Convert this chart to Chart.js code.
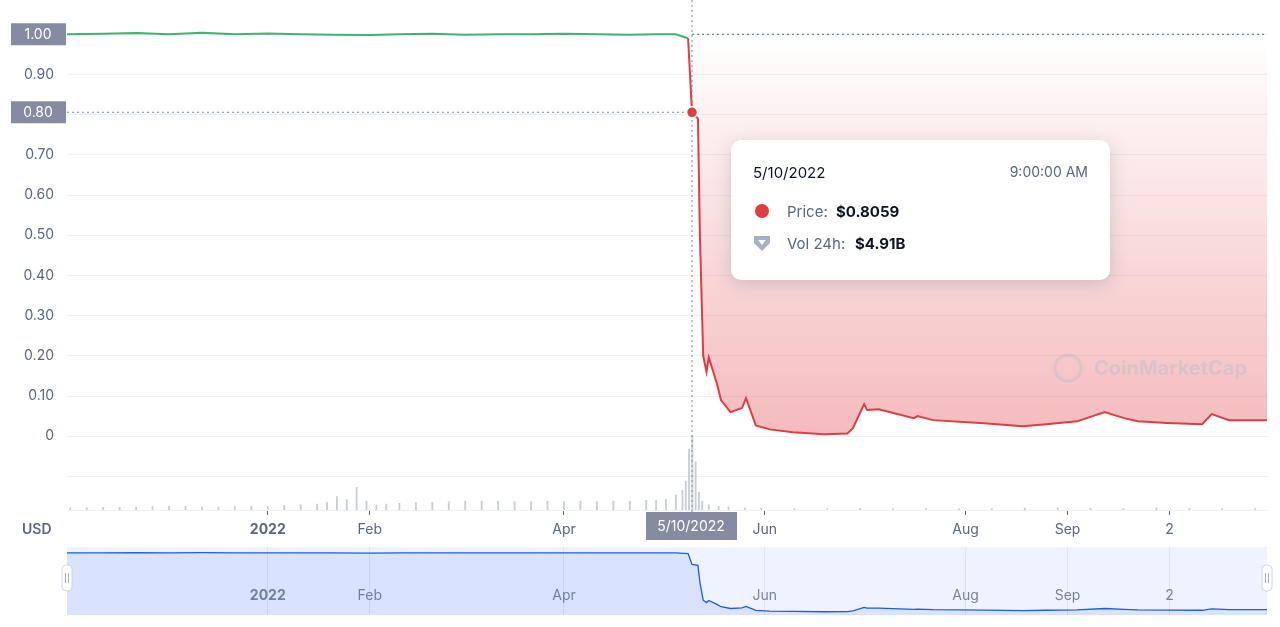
<!DOCTYPE html>
<html>
<head>
<meta charset="utf-8">
<script src="https://cdn.jsdelivr.net/npm/chart.js@4.4.1/dist/chart.umd.min.js"></script>
<style>
  body { margin: 0; background: #fff; font-family: Inter, "Noto Sans", sans-serif; }
  #wrap { position: relative; width: 1280px; height: 627px; }
  #main { position: absolute; left: 0; top: 0; }
  #nav { position: absolute; left: 0; top: 545px; }
  #usd { position: absolute; left: 22px; top: 520px; font: 600 14px Inter, sans-serif; color: #58667e; }
</style>
</head>
<body>
<div id="wrap">
  <canvas id="main" width="1280" height="545"></canvas>
  <div id="usd">USD</div>
  <canvas id="nav" width="1280" height="70"></canvas>
</div>
<script>
// день 0 = 1 янв 2022
const priceDays = [-61, -50, -40, -30, -20, -10, 0, 10, 20, 31, 40, 50, 60, 70, 80, 90, 100, 110, 118, 124, 127.7, 128.9, 130.7, 131.3, 132.3,
  133.3, 134.0, 136.5, 137.7, 140.6, 144.1, 145.3, 148.3, 152.5, 159.6, 169.0, 176.1, 177.8, 181.2, 182.1, 185.6, 196.3, 197.4, 202.1,
  217.6, 229.4, 236.5, 245.9, 254.3, 260.2, 264.3, 273.3, 283.9, 286.8, 292.1, 303.6];
const priceValues = [1.0, 1.001, 1.003, 1.0, 1.004, 1.0, 1.002, 1.0, 0.999, 0.998, 1.0, 1.001, 0.999, 1.0, 1.0, 1.001, 1.0, 0.999, 1.0, 1.0, 0.99, 0.8059, 0.79, 0.5, 0.2,
  0.16, 0.196, 0.13, 0.09, 0.06, 0.07, 0.095, 0.027, 0.017, 0.01, 0.005, 0.007, 0.02, 0.08, 0.065, 0.067, 0.045, 0.05, 0.04,
  0.032, 0.025, 0.03, 0.037, 0.06, 0.045, 0.037, 0.033, 0.03, 0.055, 0.04, 0.04];

// объём торгов, млрд $
const volumeDays = [-60, -55, -50, -45, -40, -35, -30, -25, -20, -15, -10, -5, 0, 5, 10, 15, 18, 21, 24, 27, 30, 33, 36, 40, 45, 50, 55, 60,
  65, 70, 75, 80, 85, 90, 95, 100, 105, 110, 115, 118, 121, 124, 126, 127, 128, 129, 130, 131, 132, 134, 137, 140, 145, 150, 160, 170,
  180, 190, 200, 210, 220, 230, 240, 250, 260, 270, 280, 290, 300];
const volumeValues = [0.15, 0.15, 0.17, 0.18, 0.2, 0.22, 0.25, 0.25, 0.2, 0.2, 0.22, 0.25, 0.25, 0.3, 0.35, 0.4, 0.5, 0.9, 0.7, 1.5, 0.6, 0.35, 0.4, 0.45, 0.5, 0.5, 0.55, 0.6,
  0.6, 0.6, 0.55, 0.55, 0.6, 0.55, 0.6, 0.55, 0.6, 0.6, 0.65, 0.65, 0.7, 1.0, 1.3, 1.9, 4.05, 4.91, 3.2, 1.2, 0.6, 0.35, 0.25, 0.2, 0.15, 0.12, 0.1, 0.1,
  0.1, 0.09, 0.09, 0.08, 0.1, 0.12, 0.15, 0.12, 0.1, 0.15, 0.12, 0.1, 0.1];

const tickDays = [0, 31, 90, 151, 212, 243, 274];
const tickLabels = ['2022', 'Feb', 'Apr', 'Jun', 'Aug', 'Sep', '2'];
const yTicks = [0, 0.1, 0.2, 0.3, 0.4, 0.5, 0.6, 0.7, 0.8, 0.9, 1.0];

const activeDay = 128.9;
const activePrice = 0.8059;

const GREEN = '#3fb36f', RED = '#e03c42', GRAY = '#58667e';

const pricePts = priceDays.map((d, i) => ({ x: d, y: priceValues[i] }));
const volPts = volumeDays.map((d, i) => ({ x: d, y: volumeValues[i] }));

// Прямоугольник со скруглением
function roundRect(ctx, x, y, w, h, r) {
  ctx.beginPath();
  ctx.moveTo(x + r, y);
  ctx.arcTo(x + w, y, x + w, y + h, r);
  ctx.arcTo(x + w, y + h, x, y + h, r);
  ctx.arcTo(x, y + h, x, y, r);
  ctx.arcTo(x, y, x + w, y, r);
  ctx.closePath();
}

// Перекрестие, подписи и тултип
const overlay = {
  id: 'overlay',
  afterDatasetsDraw(chart) {
    const ctx = chart.ctx, a = chart.chartArea;
    const xs = chart.scales.x, ys = chart.scales.y;
    const px = xs.getPixelForValue(activeDay), py = ys.getPixelForValue(activePrice);
    const p1 = ys.getPixelForValue(1.0);
    ctx.save();
    ctx.setLineDash([2, 3]);
    ctx.lineWidth = 1;
    ctx.strokeStyle = '#7a86a8';
    ctx.beginPath(); ctx.moveTo(px, 0); ctx.lineTo(px, a.bottom + 4); ctx.stroke();
    ctx.beginPath(); ctx.moveTo(a.left, py); ctx.lineTo(px, py); ctx.stroke();
    ctx.strokeStyle = '#58667e';
    ctx.beginPath(); ctx.moveTo(px, p1); ctx.lineTo(a.right, p1); ctx.stroke();
    ctx.setLineDash([]);
    // точка
    ctx.fillStyle = RED; ctx.strokeStyle = '#fff'; ctx.lineWidth = 1.5;
    ctx.beginPath(); ctx.arc(px, py, 5.5, 0, Math.PI * 2); ctx.fill(); ctx.stroke();
    // подписи на оси Y
    ctx.font = '14px Inter, sans-serif';
    ctx.textAlign = 'center'; ctx.textBaseline = 'middle';
    [[p1, '1.00'], [py, '0.80']].forEach(([y, t]) => {
      ctx.fillStyle = '#858ca2';
      ctx.fillRect(11, y - 11, 55, 22);
      ctx.fillStyle = '#fff';
      ctx.fillText(t, 38, y + 1);
    });
    // подпись даты
    ctx.fillStyle = '#858ca2';
    ctx.fillRect(646, a.bottom + 2, 91, 28);
    ctx.fillStyle = '#fff';
    ctx.fillText('5/10/2022', 691, a.bottom + 17);
    // водяной знак
    ctx.globalAlpha = 0.35;
    ctx.strokeStyle = '#a9b8d0'; ctx.lineWidth = 3;
    ctx.beginPath(); ctx.arc(1068, 368, 13, 0, Math.PI * 2); ctx.stroke();
    ctx.fillStyle = '#a9b8d0';
    ctx.font = 'bold 20px Inter, sans-serif'; ctx.textAlign = 'left';
    ctx.fillText('CoinMarketCap', 1094, 369);
    ctx.globalAlpha = 1;
    // тултип
    ctx.shadowColor = 'rgba(88,102,126,0.25)'; ctx.shadowBlur = 18; ctx.shadowOffsetY = 4;
    ctx.fillStyle = '#fff';
    roundRect(ctx, 731, 140, 379, 140, 10); ctx.fill();
    ctx.shadowColor = 'transparent';
    ctx.fillStyle = '#0d1421'; ctx.font = '15px Inter, sans-serif';
    ctx.fillText('5/10/2022', 753, 173);
    ctx.textAlign = 'right'; ctx.fillStyle = GRAY; ctx.font = '14px Inter, sans-serif';
    ctx.fillText('9:00:00 AM', 1088, 173);
    ctx.textAlign = 'left';
    ctx.fillStyle = RED;
    ctx.beginPath(); ctx.arc(762, 211, 7, 0, Math.PI * 2); ctx.fill();
    ctx.fillStyle = '#a6b0c3';
    ctx.beginPath(); ctx.moveTo(754, 236); ctx.lineTo(770, 236); ctx.lineTo(770, 243); ctx.lineTo(762, 251); ctx.lineTo(754, 243); ctx.closePath(); ctx.fill();
    ctx.fillStyle = '#fff';
    ctx.beginPath(); ctx.moveTo(758, 240); ctx.lineTo(766, 240); ctx.lineTo(762, 245); ctx.closePath(); ctx.fill();
    ctx.font = '15px Inter, sans-serif'; ctx.fillStyle = GRAY;
    ctx.fillText('Price:', 787, 212);
    ctx.fillText('Vol 24h:', 787, 244);
    ctx.fillStyle = '#0d1421'; ctx.font = 'bold 15px Inter, sans-serif';
    ctx.fillText('$0.8059', 836, 212);
    ctx.fillText('$4.91B', 855, 244);
    ctx.restore();
  }
};

new Chart(document.getElementById('main'), {
  type: 'line',
  data: {
    datasets: [{
      data: pricePts,
      yAxisID: 'y',
      borderWidth: 2,
      pointRadius: 0,
      tension: 0,
      segment: { borderColor: c => c.p0.parsed.x < 127 ? GREEN : RED },
      borderColor: RED,
      fill: { target: { value: 1.0 }, above: 'rgba(63,179,111,0.1)', below: c => {
        const a = c.chart.chartArea;
        if (!a) return 'rgba(234,57,67,0.2)';
        const g = c.chart.ctx.createLinearGradient(0, c.chart.scales.y.getPixelForValue(1), 0, c.chart.scales.y.getPixelForValue(0));
        g.addColorStop(0, 'rgba(224,60,66,0)');
        g.addColorStop(1, 'rgba(224,60,66,0.35)');
        return g;
      } },
      order: 1
    }, {
      type: 'bar',
      data: volPts,
      yAxisID: 'yv',
      backgroundColor: '#c8cdd8',
      barThickness: 1.2,
      order: 2
    }]
  },
  options: {
    responsive: false,
    animation: false,
    layout: { padding: { top: 20, right: 13, left: 0, bottom: 0 } },
    plugins: { legend: { display: false }, tooltip: { enabled: false } },
    scales: {
      x: {
        type: 'linear', min: -61, max: 303.6, offset: false,
        afterBuildTicks: s => { s.ticks = tickDays.map(v => ({ value: v })); },
        afterFit: s => { s.height = 35; },
        grid: { drawOnChartArea: false, tickLength: 5, color: '#58667e', offset: false },
        border: { color: '#eff2f5' },
        ticks: {
          color: GRAY, maxRotation: 0, autoSkip: false, padding: 6,
          font: c => ({ family: 'Inter', size: 14, weight: c.index === 0 ? 'bold' : 'normal' }),
          callback: (v, i) => tickLabels[i]
        }
      },
      y: {
        min: -0.1836, max: 1.032,
        afterBuildTicks: s => { s.ticks = [-0.1].concat(yTicks).map(v => ({ value: v })); },
        afterFit: s => { s.width = 67; },
        grid: { color: '#eff2f5', drawTicks: false },
        border: { display: false },
        ticks: {
          color: GRAY, padding: 13, font: { family: 'Inter', size: 14 },
          callback: v => v < 0 ? '' : (v === 0 ? '0' : v.toFixed(2))
        }
      },
      yv: { display: false, min: 0, max: 32.5 }
    }
  },
  plugins: [overlay]
});

// Навигатор
new Chart(document.getElementById('nav'), {
  type: 'line',
  data: {
    datasets: [{
      data: pricePts,
      borderColor: '#1e5ce0',
      borderWidth: 1.3,
      pointRadius: 0,
      fill: 'start',
      backgroundColor: 'rgba(56,97,251,0.12)'
    }]
  },
  options: {
    responsive: false,
    animation: false,
    layout: { padding: { left: 67, right: 13, top: 2, bottom: 0 } },
    plugins: { legend: { display: false }, tooltip: { enabled: false } },
    scales: {
      x: {
        type: 'linear', min: -61, max: 303.6,
        afterBuildTicks: s => { s.ticks = tickDays.map(v => ({ value: v })); },
        grid: { color: '#dfe4f0', drawTicks: false },
        border: { display: false },
        ticks: {
          display: true, color: 'rgba(88,102,126,0.8)', padding: -28, autoSkip: false, maxRotation: 0,
          font: c => ({ family: 'Inter', size: 14, weight: c.index === 0 ? 'bold' : 'normal' }),
          callback: (v, i) => tickLabels[i]
        }
      },
      y: { display: false, min: -0.05, max: 1.1 }
    }
  },
  plugins: [{
    id: 'navBg',
    beforeDraw(chart) {
      const ctx = chart.ctx, a = chart.chartArea;
      ctx.save();
      ctx.fillStyle = 'rgba(56,97,251,0.08)';
      ctx.fillRect(a.left, a.top, a.right - a.left, a.bottom - a.top);
      ctx.restore();
    },
    afterDraw(chart) {
      const ctx = chart.ctx, a = chart.chartArea;
      ctx.save();
      [a.left, a.right].forEach(x => {
        ctx.fillStyle = '#fff'; ctx.strokeStyle = '#cfd6e4';
        roundRect(ctx, x - 5, 20, 10, 26, 4); ctx.fill(); ctx.stroke();
        ctx.strokeStyle = '#a6b0c3';
        ctx.beginPath(); ctx.moveTo(x - 1.5, 28); ctx.lineTo(x - 1.5, 38); ctx.moveTo(x + 1.5, 28); ctx.lineTo(x + 1.5, 38); ctx.stroke();
      });
      ctx.restore();
    }
  }]
});
</script>
</body>
</html>
